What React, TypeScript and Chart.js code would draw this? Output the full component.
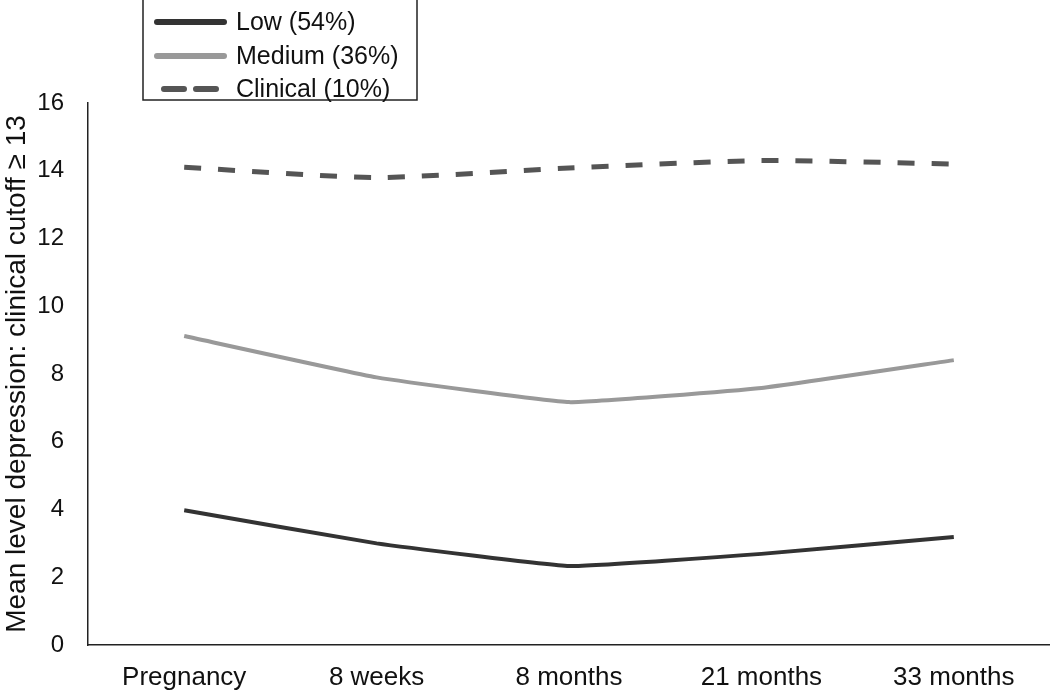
import React, { useEffect, useRef } from "react";
import { Chart, registerables } from "chart.js";

Chart.register(...registerables);

const categories = ["Pregnancy", "8 weeks", "8 months", "21 months", "33 months"];
const lowValues = [3.98, 3.0, 2.33, 2.69, 3.19];
const mediumValues = [9.12, 7.9, 7.17, 7.59, 8.41];
const clinicalValues = [14.1, 13.8, 14.08, 14.3, 14.2];
const seriesNames = ["Low (54%)", "Medium (36%)", "Clinical (10%)"];
const yTicks = [0, 2, 4, 6, 8, 10, 12, 14, 16];
const yTitle = "Mean level depression: clinical cutoff \u2265 13";

const legendPlugin = {
  id: "boxLegend",
  afterDraw(chart: any) {
    const ctx = chart.ctx;
    ctx.save();
    const left = 143, top = -1, right = 417, bottom = 100;
    ctx.strokeStyle = "#222";
    ctx.lineWidth = 1.5;
    ctx.strokeRect(left, top, right - left, bottom - top);
    const rows = [22, 56, 89];
    chart.data.datasets.forEach((ds: any, i: number) => {
      const y = rows[i];
      ctx.beginPath();
      ctx.strokeStyle = ds.borderColor;
      ctx.lineWidth = 6;
      ctx.lineCap = "round";
      if (ds.borderDash && ds.borderDash.length) {
        ctx.setLineDash([20, 12]);
        ctx.moveTo(164, y);
        ctx.lineTo(216, y);
      } else {
        ctx.setLineDash([]);
        ctx.moveTo(157, y);
        ctx.lineTo(224, y);
      }
      ctx.stroke();
      ctx.setLineDash([]);
      ctx.fillStyle = "#111";
      ctx.font = "25px 'Liberation Sans', Arial, sans-serif";
      ctx.textBaseline = "middle";
      ctx.textAlign = "left";
      ctx.fillText(ds.label, 236, y + 1);
    });
    ctx.restore();
  },
};

export default function App() {
  const ref = useRef<HTMLCanvasElement | null>(null);
  useEffect(() => {
    if (!ref.current) return;
    const chart = new Chart(ref.current, {
      type: "line",
      data: {
        labels: categories,
        datasets: [
          {
            label: seriesNames[0],
            data: lowValues,
            borderColor: "#333333",
            borderWidth: 4,
            pointRadius: 0,
            tension: 0.1,
            fill: false,
          },
          {
            label: seriesNames[1],
            data: mediumValues,
            borderColor: "#999999",
            borderWidth: 4,
            pointRadius: 0,
            tension: 0.1,
            fill: false,
          },
          {
            label: seriesNames[2],
            data: clinicalValues,
            borderColor: "#555555",
            borderWidth: 5,
            borderDash: [17, 17],
            pointRadius: 0,
            tension: 0.2,
            fill: false,
          },
        ],
      },
      options: {
        responsive: false,
        animation: false,
        layout: { padding: { top: 103, right: 0, bottom: 0, left: 0 } },
        plugins: { legend: { display: false }, tooltip: { enabled: false } },
        scales: {
          x: {
            type: "category",
            offset: true,
            grid: { display: false, drawTicks: false },
            border: { display: true, color: "#222", width: 1.5 },
            ticks: {
              color: "#111",
              padding: 17,
              maxRotation: 0,
              autoSkip: false,
              font: { family: "'Liberation Sans', Arial, sans-serif", size: 26 },
            },
            afterFit(scale: any) {
              scale.height = 48;
            },
          },
          y: {
            min: 0,
            max: 16,
            afterBuildTicks(scale: any) {
              scale.ticks = yTicks.map((v) => ({ value: v }));
            },
            grid: { display: false, drawTicks: false },
            border: { display: true, color: "#222", width: 1.5 },
            ticks: {
              color: "#111",
              padding: 24,
              font: { family: "'Liberation Sans', Arial, sans-serif", size: 24 },
            },
            title: {
              display: true,
              text: yTitle,
              color: "#111",
              padding: { top: 0, bottom: 0 },
              font: { family: "'Liberation Sans', Arial, sans-serif", size: 28 },
            },
            afterFit(scale: any) {
              scale.width = 88;
            },
          },
        },
      },
      plugins: [legendPlugin],
    });
    return () => chart.destroy();
  }, []);
  return (
    <div style={{ position: "fixed", left: 0, top: 0, width: 1050, height: 693, background: "#fff" }}>
      <canvas ref={ref} width={1050} height={693} />
    </div>
  );
}
